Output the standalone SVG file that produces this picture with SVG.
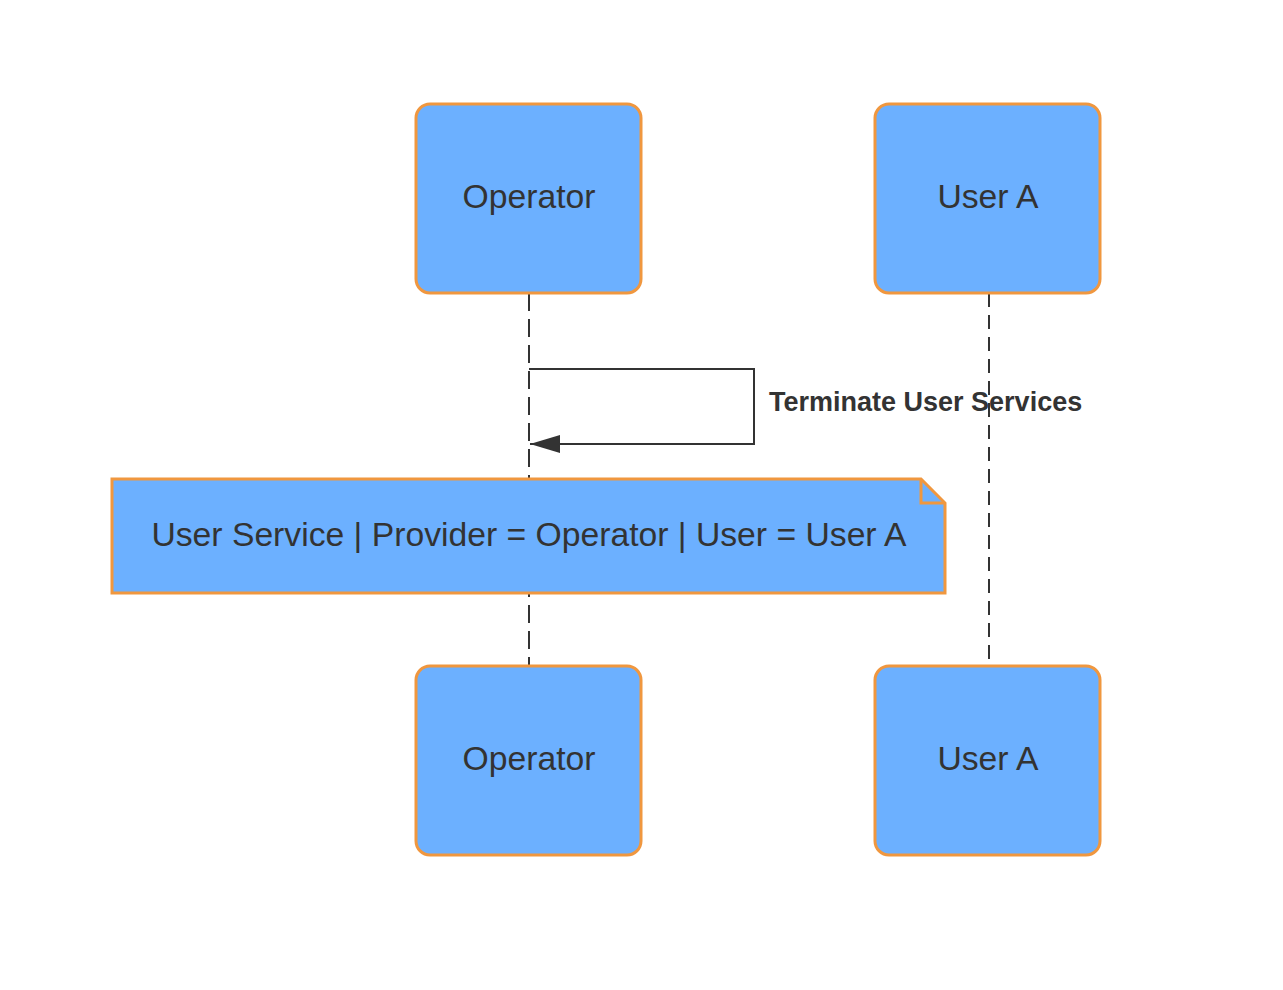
<svg xmlns="http://www.w3.org/2000/svg" width="1283" height="990" viewBox="0 0 1283 990">
<style>
.actor{fill:#6cb0ff;stroke:#f0973f;stroke-width:3}
.lbl{font-family:"Liberation Sans",Arial,sans-serif;font-size:33.7px;fill:#333;text-anchor:middle}
.life{stroke:#333;stroke-width:2;fill:none}
</style>
<defs><marker id="ah" markerWidth="30" markerHeight="18" refX="30" refY="9" orient="auto" markerUnits="userSpaceOnUse"><path d="M0,0 L30,9 L0,18 Z" fill="#333"/></marker></defs>
<rect width="1283" height="990" fill="#fff"/>
<g id="connectors">
<line class="life" x1="529" y1="293" x2="529" y2="666" stroke-dasharray="18,8"/>
<line class="life" x1="989" y1="293" x2="989" y2="666" stroke-dasharray="14,8" stroke-width="1"/>
<path class="life" d="M529,369 H754 V444 H530" marker-end="url(#ah)"/>
<text x="769" y="411" font-family="Liberation Sans,Arial,sans-serif" font-size="27" font-weight="bold" fill="#333">Terminate User Services</text>
</g>
<g id="op-top"><rect class="actor" x="416" y="104" width="225" height="189" rx="14"/><text class="lbl" x="529" y="208">Operator</text></g>
<g id="ua-top"><rect class="actor" x="875" y="104" width="225" height="189" rx="14"/><text class="lbl" x="988" y="208">User A</text></g>
<g id="note"><path class="actor" d="M112,479 H921 L945,503 V593 H112 Z"/><path d="M921,479 V503 H945" fill="none" stroke="#f0973f" stroke-width="3"/><text class="lbl" x="529" y="546">User Service | Provider = Operator | User = User A</text></g>
<g id="op-bot"><rect class="actor" x="416" y="666" width="225" height="189" rx="14"/><text class="lbl" x="529" y="770">Operator</text></g>
<g id="ua-bot"><rect class="actor" x="875" y="666" width="225" height="189" rx="14"/><text class="lbl" x="988" y="770">User A</text></g>
</svg>
